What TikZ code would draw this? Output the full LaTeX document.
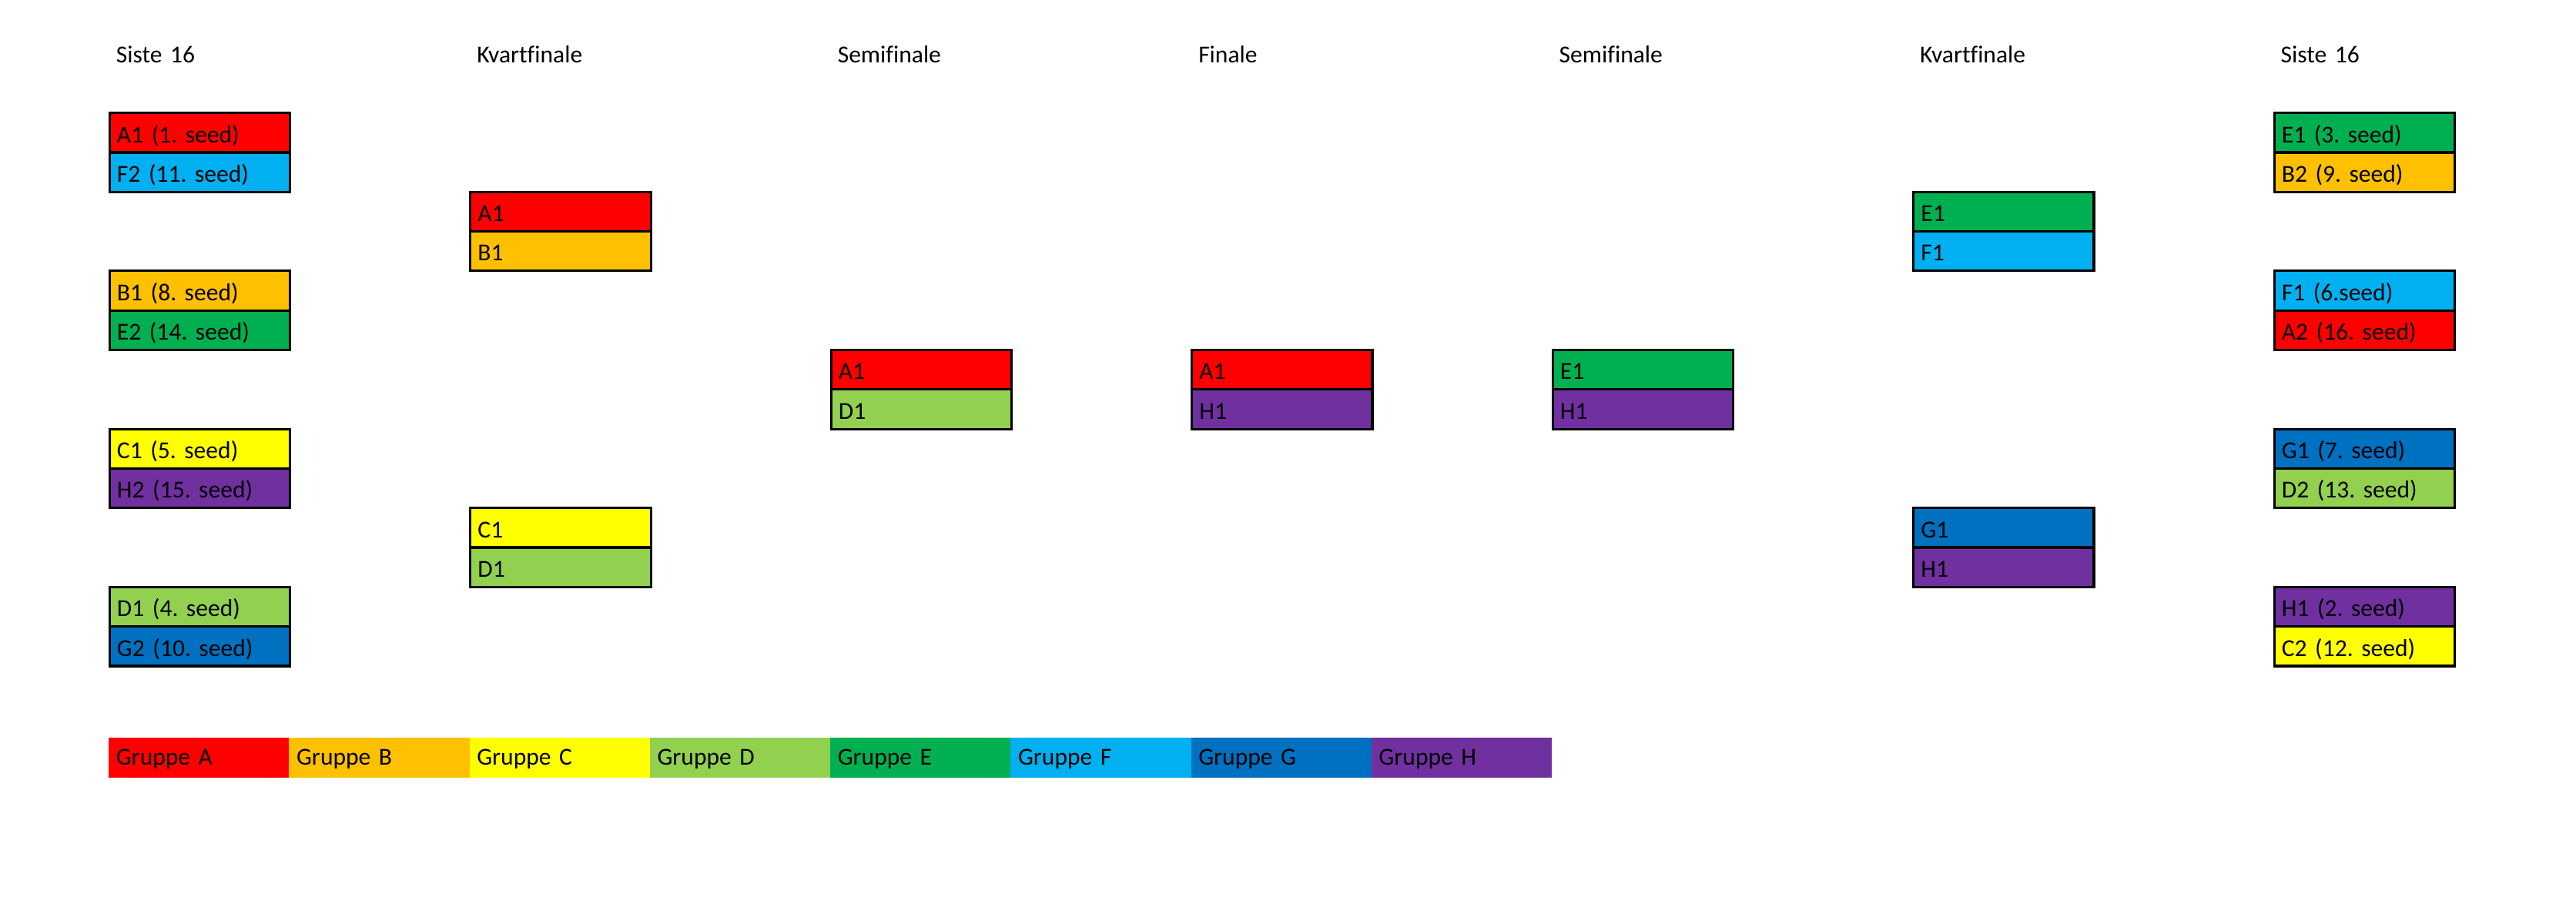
\documentclass[tikz,border=0pt]{standalone}
\usepackage{fontspec}
\setmainfont[Ligatures=NoCommon]{Carlito}
\frenchspacing
\definecolor{grA}{HTML}{FF0000}
\definecolor{grB}{HTML}{FFC000}
\definecolor{grC}{HTML}{FFFF00}
\definecolor{grD}{HTML}{92D050}
\definecolor{grE}{HTML}{00B050}
\definecolor{grF}{HTML}{00B0F0}
\definecolor{grG}{HTML}{0070C0}
\definecolor{grH}{HTML}{7030A0}
\tikzset{
  base/.style={anchor=north west, inner xsep=4.5pt, inner ysep=0pt,
    text width=100.8pt, align=left, font=\fontsize{14.8}{16}\selectfont\frenchspacing},
  cell/.style={base, draw=black, line width=1.5pt, text height=18pt, text depth=6.05pt},
  head/.style={base, text height=18pt, text depth=6.05pt},
  legend/.style={base, text height=16.6pt, text depth=7.8pt}
}
\begin{document}
\begin{tikzpicture}[x=1pt,y=-1pt]
\useasboundingbox (0,0) rectangle (1568,562.5);
% headings
\node[head] (h1) at (66,20) {Siste 16};
\node[head] (h2) at (285.6,20) {Kvartfinale};
\node[head] (h3) at (505.2,20) {Semifinale};
\node[head] (h4) at (724.8,20) {Finale};
\node[head] (h5) at (944.4,20) {Semifinale};
\node[head] (h6) at (1164,20) {Kvartfinale};
\node[head] (h7) at (1383.6,20) {Siste 16};
% left round of 16
\node[cell, fill=grA] (l1a) at (66,68) {A1 (1. seed)};
\node[cell, fill=grF] (l1b) at (66,92.05) {F2 (11. seed)};
\node[cell, fill=grB] (l2a) at (66,164.2) {B1 (8. seed)};
\node[cell, fill=grE] (l2b) at (66,188.25) {E2 (14. seed)};
\node[cell, fill=grC] (l3a) at (66,260.4) {C1 (5. seed)};
\node[cell, fill=grH] (l3b) at (66,284.45) {H2 (15. seed)};
\node[cell, fill=grD] (l4a) at (66,356.6) {D1 (4. seed)};
\node[cell, fill=grG] (l4b) at (66,380.65) {G2 (10. seed)};
% left quarterfinals
\node[cell, fill=grA] (lq1a) at (285.6,116.1) {A1};
\node[cell, fill=grB] (lq1b) at (285.6,140.15) {B1};
\node[cell, fill=grC] (lq2a) at (285.6,308.5) {C1};
\node[cell, fill=grD] (lq2b) at (285.6,332.55) {D1};
% left semifinal
\node[cell, fill=grA] (ls1a) at (505.2,212.3) {A1};
\node[cell, fill=grD] (ls1b) at (505.2,236.35) {D1};
% final
\node[cell, fill=grA] (fa) at (724.8,212.3) {A1};
\node[cell, fill=grH] (fb) at (724.8,236.35) {H1};
% right semifinal
\node[cell, fill=grE] (rs1a) at (944.4,212.3) {E1};
\node[cell, fill=grH] (rs1b) at (944.4,236.35) {H1};
% right quarterfinals
\node[cell, fill=grE] (rq1a) at (1164,116.1) {E1};
\node[cell, fill=grF] (rq1b) at (1164,140.15) {F1};
\node[cell, fill=grG] (rq2a) at (1164,308.5) {G1};
\node[cell, fill=grH] (rq2b) at (1164,332.55) {H1};
% right round of 16
\node[cell, fill=grE] (r1a) at (1383.6,68) {E1 (3. seed)};
\node[cell, fill=grB] (r1b) at (1383.6,92.05) {B2 (9. seed)};
\node[cell, fill=grF] (r2a) at (1383.6,164.2) {F1 (6.seed)};
\node[cell, fill=grA] (r2b) at (1383.6,188.25) {A2 (16. seed)};
\node[cell, fill=grG] (r3a) at (1383.6,260.4) {G1 (7. seed)};
\node[cell, fill=grD] (r3b) at (1383.6,284.45) {D2 (13. seed)};
\node[cell, fill=grH] (r4a) at (1383.6,356.6) {H1 (2. seed)};
\node[cell, fill=grC] (r4b) at (1383.6,380.65) {C2 (12. seed)};
% legend
\node[legend, fill=grA] (gA) at (66,449) {Gruppe A};
\node[legend, fill=grB] (gB) at (175.8,449) {Gruppe B};
\node[legend, fill=grC] (gC) at (285.6,449) {Gruppe C};
\node[legend, fill=grD] (gD) at (395.4,449) {Gruppe D};
\node[legend, fill=grE] (gE) at (505.2,449) {Gruppe E};
\node[legend, fill=grF] (gF) at (615,449) {Gruppe F};
\node[legend, fill=grG] (gG) at (724.8,449) {Gruppe G};
\node[legend, fill=grH] (gH) at (834.6,449) {Gruppe H};
\end{tikzpicture}
\end{document}
